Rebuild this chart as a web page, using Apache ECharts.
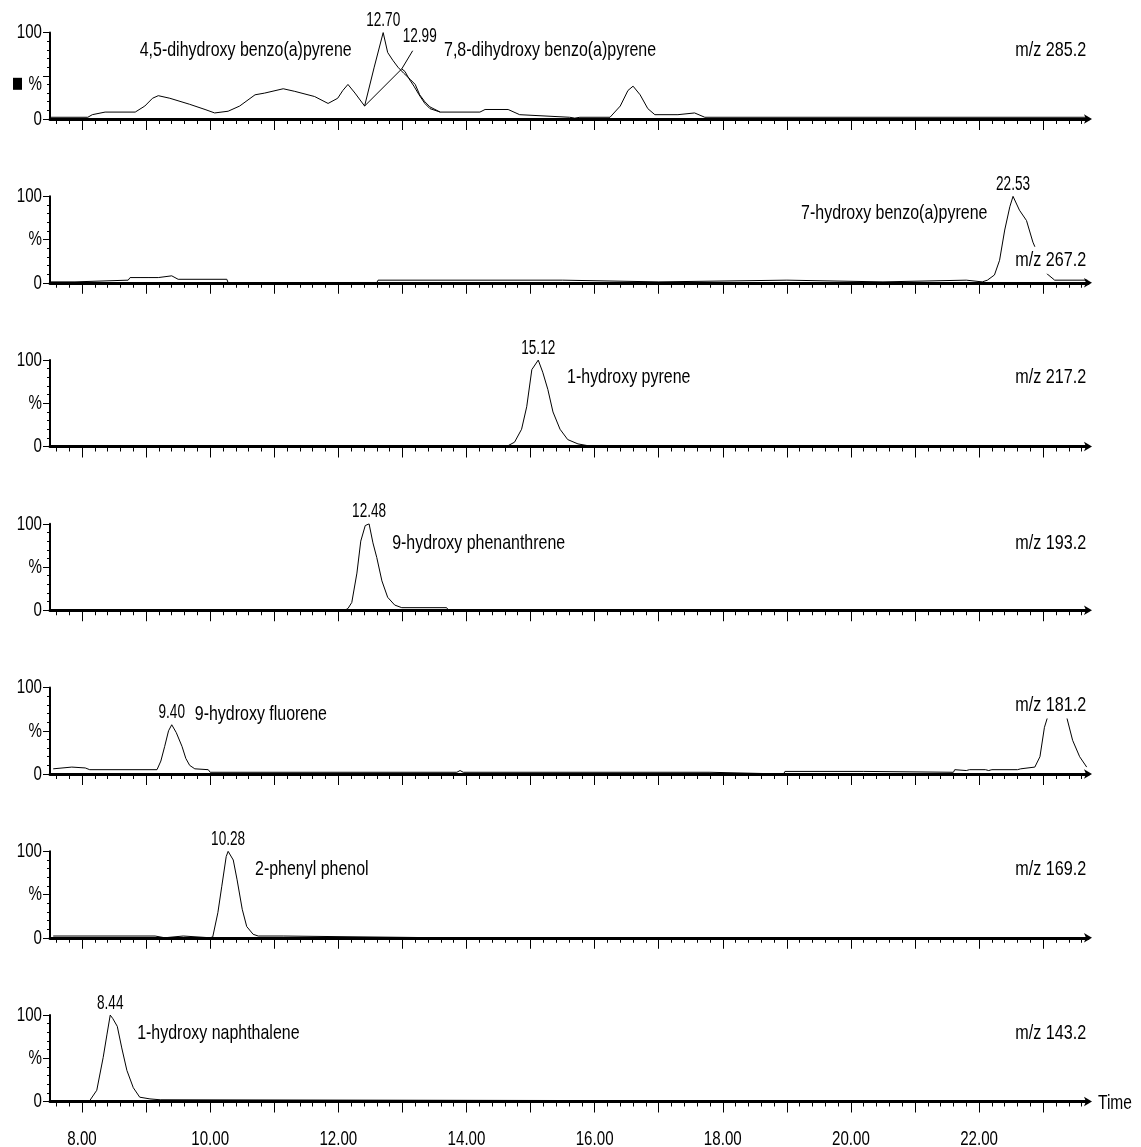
<!DOCTYPE html>
<html>
<head>
<meta charset="utf-8">
<title>Hydroxy-PAH SIR chromatograms</title>
<script src="https://cdn.jsdelivr.net/npm/echarts@6/dist/echarts.min.js"></script>
<style>
  html, body { margin: 0; padding: 0; background: #fff; }
  #chart { width: 1141px; height: 1147px; }
</style>
</head>
<body>
<div id="chart"></div>
<script>
// Retention time axis (minutes)
const timeMin = 7.5;
const timeMax = 23.7;
const timeLabels = [8, 10, 12, 14, 16, 18, 20, 22];
const intensityLabels = [[0, '0'], [50, '%'], [100, '100']];

// Relative intensity traces, [time, % of max], one per monitored ion
const trace285 = [[7.50,2],[8.09,2],[8.16,5],[8.36,8],[8.83,8],[8.98,15],[9.10,24],[9.19,27],[9.37,24],[9.68,17],[9.92,11],[10.07,7],[10.28,9],[10.46,15],[10.70,28],[10.85,30],[11.14,35],[11.32,32],[11.63,26],[11.84,18],[11.99,24],[12.07,33],[12.15,40],[12.26,30],[12.41,15],[12.56,60],[12.70,100],[12.77,77],[12.85,68],[12.93,60],[13.02,53],[13.12,46],[13.20,40],[13.27,28],[13.35,20],[13.43,14],[13.59,8],[14.21,8],[14.29,11],[14.65,11],[14.83,5],[15.61,2],[15.69,1],[15.77,2],[16.24,2],[16.40,15],[16.52,33],[16.60,38],[16.71,28],[16.83,12],[16.94,5],[17.30,5],[17.33,7],[17.56,7],[17.72,2],[23.69,2]];
const trace285b = [[12.41,15],[12.99,58],[13.04,55],[13.10,47],[13.18,38],[13.26,28],[13.35,18],[13.43,12],[13.59,8]];
const trace267 = [[7.50,1],[7.89,1],[7.91,3],[8.72,3],[8.75,6],[8.92,6],[8.95,8],[9.03,6],[9.19,6],[9.22,8],[9.40,8],[9.50,4],[10.26,4],[10.28,0],[12.60,0],[12.62,3],[15.50,3],[15.52,1],[17.00,1],[17.02,3],[19.00,3],[19.02,1],[20.50,1],[20.52,3],[21.80,3],[21.82,1],[22.05,1],[22.13,3],[22.24,9],[22.32,26],[22.40,61],[22.48,88],[22.53,100],[22.63,84],[22.74,72],[22.84,47],[22.95,28],[23.05,11],[23.18,3],[23.69,3]];
const trace217 = [[7.50,0],[14.55,0],[14.65,1],[14.75,5],[14.86,20],[14.94,46],[15.02,89],[15.12,100],[15.19,86],[15.27,66],[15.35,40],[15.46,20],[15.58,8],[15.74,3],[15.89,1],[15.96,0],[23.69,0]];
const trace193 = [[7.50,0],[12.10,0],[12.15,2],[12.21,9],[12.29,43],[12.35,80],[12.42,98],[12.48,100],[12.54,78],[12.60,61],[12.68,34],[12.77,15],[12.88,6],[12.99,3],[13.69,3],[13.72,0],[23.69,0]];
const trace181 = [[7.55,6],[7.84,8],[8.05,7],[8.12,5],[9.17,5],[9.23,15],[9.29,32],[9.35,50],[9.40,57],[9.47,48],[9.56,32],[9.62,18],[9.68,10],[9.76,6],[9.97,5],[10.00,2],[13.85,2],[13.90,4],[13.95,2],[17.80,2],[17.82,0],[18.95,0],[18.97,3],[20.20,3],[20.22,2],[21.60,2],[21.62,5],[21.80,4],[21.85,5],[22.10,5],[22.15,4],[22.20,5],[22.60,5],[22.65,6],[22.87,8],[22.95,20],[23.02,54],[23.07,66],[23.13,80],[23.21,87],[23.29,80],[23.37,65],[23.46,39],[23.57,20],[23.68,8]];
const trace169 = [[7.55,2],[9.14,2],[9.15,0],[9.29,0],[9.30,2],[9.58,2],[9.60,0],[10.00,0],[10.04,1],[10.12,29],[10.18,59],[10.25,94],[10.28,100],[10.36,90],[10.42,67],[10.50,33],[10.57,13],[10.67,4],[10.75,2],[11.14,2],[11.17,0],[13.60,0],[13.63,2],[13.66,0],[23.69,0]];
const trace143 = [[7.55,0],[8.12,1],[8.23,13],[8.33,51],[8.39,78],[8.44,100],[8.48,96],[8.55,87],[8.62,62],[8.70,36],[8.80,16],[8.90,5],[9.06,3],[9.22,2],[9.25,0],[23.69,0]];

// Ion channels, top to bottom
const ionLabels = ['m/z 285.2', 'm/z 267.2', 'm/z 217.2', 'm/z 193.2', 'm/z 181.2', 'm/z 169.2', 'm/z 143.2'];
const traces = [trace285, trace267, trace217, trace193, trace181, trace169, trace143];
// Labelled peak apexes per channel: [retention time, intensity]
const peaks = [[[12.70, 100]], [[22.53, 100]], [[15.12, 100]], [[12.48, 100]], [[9.40, 57]], [[10.28, 100]], [[8.44, 100]]];
// second isomer apex in the m/z 285.2 channel, its leader end and label anchor
const shoulderPeak = [12.99, 58];
const shoulderLeader = [13.16, 79];
const shoulderLabelAt = [13.27, 95];
// Compound names: [text, time anchor, intensity anchor, alignment]
const compounds = [
  [['4,5-dihydroxy benzo(a)pyrene', 8.90, 80, 'left'], ['7,8-dihydroxy benzo(a)pyrene', 13.65, 80, 'left']],
  [['7-hydroxy benzo(a)pyrene', 22.13, 81, 'right']],
  [['1-hydroxy pyrene', 15.57, 80, 'left']],
  [['9-hydroxy phenanthrene', 12.84, 78, 'left']],
  [['9-hydroxy fluorene', 9.76, 69, 'left']],
  [['2-phenyl phenol', 10.70, 79, 'left']],
  [['1-hydroxy naphthalene', 8.86, 79, 'left']]
];
// Vertical anchor of each ion label (intensity units)
const ionLabelLevel = [80, 26, 80, 78, 80, 79, 79];

const FONT_FAMILY = "'Liberation Sans', Arial, sans-serif";

const majorTicks = [];
for (let t = 8; t <= 23; t++) majorTicks.push(t);
const minorTicks = [];
for (let k = 38; k <= 118; k++) minorTicks.push(+(k * 0.2).toFixed(1));

const panelTop = 32.6, panelStep = 163.75, panelHeight = 86.4;

const grid = [], xAxis = [], yAxis = [], series = [];
traces.forEach((trace, i) => {
  grid.push({ left: 50, width: 1038, top: panelTop + panelStep * i, height: panelHeight });
  // integer ticks and the axis line
  xAxis.push({
    type: 'value', gridIndex: i, min: timeMin, max: timeMax, position: 'bottom',
    axisLine: { show: true, symbol: ['none', 'arrow'], symbolSize: [7, 8], symbolOffset: [0, 4],
      lineStyle: { color: '#000', width: 3 } },
    axisTick: { show: true, customValues: majorTicks, length: 11, lineStyle: { color: '#000', width: 1 } },
    axisLabel: { show: false },
    splitLine: { show: false }
  });
  // 0.2 min ticks
  xAxis.push({
    type: 'value', gridIndex: i, min: timeMin, max: timeMax, position: 'bottom',
    axisLine: { show: false },
    axisTick: { show: true, customValues: minorTicks, length: 5, lineStyle: { color: '#000', width: 1 } },
    axisLabel: { show: false }, splitLine: { show: false }
  });
  yAxis.push({
    type: 'value', gridIndex: i, min: 0, max: 100, interval: 50,
    axisLine: { show: true, lineStyle: { color: '#000', width: 2 } },
    axisTick: { show: true, length: 7, lineStyle: { color: '#000', width: 1 } },
    minorTick: { show: true, splitNumber: 5, length: 3, lineStyle: { color: '#000', width: 1 } },
    axisLabel: { show: false },
    splitLine: { show: false }
  });
  series.push({
    type: 'line', xAxisIndex: 2 * i, yAxisIndex: i, data: trace,
    showSymbol: false, symbol: 'none', animation: false,
    lineStyle: { color: '#000', width: 1 }
  });
});

// co-eluting 7,8-dihydroxy isomer overlaid on the m/z 285.2 channel
series.push({
  type: 'line', xAxisIndex: 0, yAxisIndex: 0, data: trace285b,
  showSymbol: false, symbol: 'none', animation: false,
  lineStyle: { color: '#000', width: 1 },
  markLine: {
    symbol: 'none', animation: false, silent: true,
    lineStyle: { color: '#000', width: 1, type: 'solid' },
    label: { show: false },
    data: [[{ coord: shoulderPeak }, { coord: shoulderLeader }]]
  }
});

const chart = echarts.init(document.getElementById('chart'), null, { renderer: 'canvas' });
chart.setOption({ backgroundColor: '#fff', animation: false, grid, xAxis, yAxis, series });

// The instrument software prints tall, condensed lettering: draw text with a horizontal squeeze.
function label(x, y, text, o) {
  const s = {
    text, x: 0, y: 0, fill: '#000',
    font: (o.size || 21) + 'px ' + FONT_FAMILY,
    align: o.align || 'center', verticalAlign: 'middle'
  };
  if (o.bg) { s.backgroundColor = '#fff'; s.padding = [3, 1, 3, 2]; }
  return { type: 'text', x, y, scaleX: o.sx || 0.74, z: 100, silent: true, style: s };
}
const px = (i, pt) => chart.convertToPixel({ xAxisIndex: 2 * i, yAxisIndex: i }, pt);

const texts = [];
traces.forEach((trace, i) => {
  // intensity axis labels
  intensityLabels.forEach(([v, txt]) => {
    const p = px(i, [timeMin, v]);
    const dy = (i === 0 && v === 50) ? 8 : 0;   // first channel: % sits beside the normalisation mark
    texts.push(label(p[0] - 8, p[1] + dy, txt, { align: 'right', sx: 0.72 }));
  });
  // retention times of the labelled apexes
  peaks[i].forEach(pk => {
    const p = px(i, pk);
    texts.push(label(p[0], p[1] - 12, pk[0].toFixed(2), { size: 20, sx: 0.68 }));
  });
  compounds[i].forEach(c => {
    const p = px(i, [c[1], c[2]]);
    texts.push(label(p[0], p[1], c[0], { align: c[3], sx: 0.76 }));
  });
  const m = px(i, [timeMax, ionLabelLevel[i]]);
  texts.push(label(m[0] - 1, m[1], ionLabels[i], { align: 'right', sx: 0.77, bg: true }));
});
// shoulder apex label
{
  const p = px(0, shoulderLabelAt);
  texts.push(label(p[0], p[1], shoulderPeak[0].toFixed(2), { size: 20, sx: 0.68 }));
}
// time axis labels and title on the bottom channel
const lastIdx = traces.length - 1;
timeLabels.forEach(t => {
  const p = px(lastIdx, [t, 0]);
  texts.push(label(p[0], p[1] + 38, t.toFixed(2), { sx: 0.72 }));
});
{
  const p = px(lastIdx, [timeMax, 0]);
  texts.push(label(p[0] + 10, p[1] + 2, 'Time', { align: 'left', sx: 0.74 }));
}
// normalisation mark beside the first channel's % label
{
  const p = px(0, [timeMin, 50]);
  texts.push({ type: 'rect', x: p[0] - 37, y: p[1] + 2, z: 100, silent: true,
    shape: { x: 0, y: 0, width: 9, height: 12 }, style: { fill: '#000' } });
}

chart.setOption({ graphic: { elements: texts } });
</script>
</body>
</html>
